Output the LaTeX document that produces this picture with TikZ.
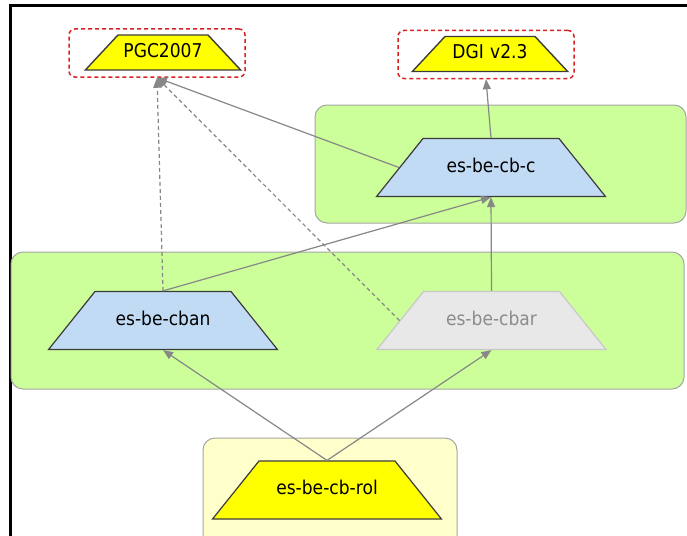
\documentclass[tikz,border=0pt]{standalone}
\usepackage{fontspec}
\setmainfont{DejaVu Sans}[FakeStretch=0.9]
\usetikzlibrary{shapes.geometric,arrows.meta}
\definecolor{grpgreen}{RGB}{204,255,153}
\definecolor{grpyellow}{RGB}{255,255,204}
\definecolor{grpborder}{RGB}{165,165,165}
\definecolor{nodeblue}{RGB}{194,219,245}
\definecolor{nodeyellow}{RGB}{255,255,0}
\definecolor{nodegrayfill}{RGB}{232,232,232}
\definecolor{nodegrayline}{RGB}{200,200,200}
\definecolor{nodegraytext}{RGB}{140,140,140}
\definecolor{edgegray}{RGB}{135,135,135}
\definecolor{boxred}{RGB}{215,35,35}
\definecolor{trapline}{RGB}{60,60,60}
\tikzset{
  grp/.style={draw=grpborder, line width=1pt, rounded corners=12pt, inner sep=0pt},
  refbox/.style={draw=boxred, line width=1.5pt, dash pattern=on 4pt off 3pt, rounded corners=6pt, inner sep=0pt, minimum width=176pt, minimum height=48pt},
  bigtrap/.style={trapezium, trapezium angle=51.3, text width=110pt, align=center,
    inner xsep=13pt, inner ysep=21.5pt, text height=12pt, text depth=3pt,
    draw=trapline, line width=1.2pt, font=\fontsize{19}{21}\selectfont},
  smalltrap/.style={trapezium, trapezium angle=47, text width=70pt, align=center,
    inner xsep=10pt, inner ysep=10pt, text height=12pt, text depth=3pt,
    draw=trapline, line width=1.4pt, fill=nodeyellow, font=\fontsize{19}{21}\selectfont},
  edge/.style={draw=edgegray, line width=1.2pt, -{Triangle[length=10pt,width=8pt]}},
  dashededge/.style={edge, dash pattern=on 4pt off 3pt},
}
\begin{document}
\begin{tikzpicture}[x=1pt,y=-1pt]
\clip (0,0) rectangle (687,535);
\fill[white] (0,0) rectangle (687,535);
% frame
\draw[line width=3pt] (10.5,540) -- (10.5,5.5) -- (690,5.5);
% groups
\node[grp, fill=grpgreen, minimum width=371pt, minimum height=118pt] (gtop) at (500.5,164) {};
\node[grp, fill=grpgreen, minimum width=673pt, minimum height=137pt] (gmid) at (347.5,320.5) {};
\node[grp, fill=grpyellow, minimum width=254pt, minimum height=120pt] (gbot) at (330,498) {};
% reference boxes
\node[refbox] (pgcbox) at (157,53) {};
\node[refbox] (dgibox) at (486,54.5) {};
% nodes
\node[smalltrap] (pgc) at (163,52.5) {\makebox[70pt]{PGC2007}};
\node[smalltrap] (dgi) at (490,54) {\makebox[70pt]{DGI v2.3}};
\node[bigtrap, fill=nodeblue] (c) at (491,167.5) {es-be-cb-c};
\node[bigtrap, fill=nodeblue] (cban) at (163,320.5) {es-be-cban};
\node[bigtrap, fill=nodegrayfill, draw=nodegrayline, text=nodegraytext] (cbar) at (491.5,320.5) {es-be-cbar};
\node[bigtrap, fill=nodeyellow] (rol) at (327,490) {es-be-cb-rol};
% connectors
\draw[edge] (rol.top side) -- (cban.bottom side);
\draw[edge] (rol.top side) -- (cbar.bottom side);
\draw[edge] (cbar.top side) -- (c.bottom side);
\draw[edge] (cban.top side) -- (c.bottom side);
\draw[dashededge] (cban.top side) -- (pgcbox.south);
\draw[dashededge] (cbar.left side) -- (pgcbox.south);
\draw[edge] (c.left side) -- (pgcbox.south);
\draw[edge] (c.top side) -- (dgibox.south);
\end{tikzpicture}
\end{document}
